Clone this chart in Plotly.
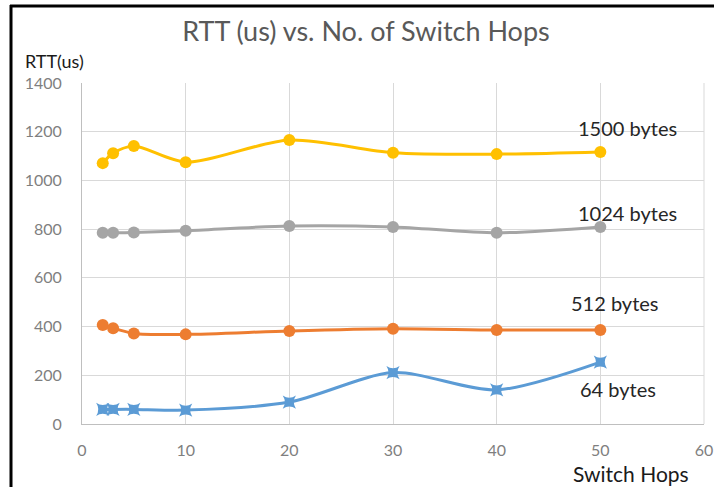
import plotly.graph_objects as go

# Switch hops and measured round-trip times (us) per packet size
hops = [2, 3, 5, 10, 20, 30, 40, 50]
rtt_1500 = [1071, 1112, 1141, 1075, 1166, 1114, 1108, 1117]
rtt_1024 = [785, 785, 786, 793, 813, 809, 785, 809]
rtt_512 = [406, 393, 372, 368, 382, 391, 386, 386]
rtt_64 = [60, 60, 60, 57, 90, 211, 140, 254]

series_names = ["1500 bytes", "1024 bytes", "512 bytes", "64 bytes"]
x_ticks = [0, 10, 20, 30, 40, 50, 60]
y_ticks = [0, 200, 400, 600, 800, 1000, 1200, 1400]

FONT = "Lato, 'Open Sans', sans-serif"
W, H = 714, 487
ML, MR, MT, MB = 82, 10, 83, 63

styles = [
    (rtt_1500, "#FFC000", "circle", 12),
    (rtt_1024, "#A5A5A5", "circle", 12),
    (rtt_512, "#ED7D31", "circle", 12),
    (rtt_64, "#5B9BD5", "star-square", 12),
]

fig = go.Figure()
for name, (vals, color, sym, size) in zip(series_names, styles):
    fig.add_trace(go.Scatter(
        x=hops, y=vals, name=name, mode="lines+markers",
        line=dict(color=color, width=3, shape="spline", smoothing=0.8),
        marker=dict(color=color, symbol=sym, size=size),
        showlegend=False,
    ))

# Series labels beside the right end of each curve (data coordinates)
label_pos = [(52.6, 1215), (52.6, 866), (51.4, 497), (51.7, 144)]
annots = []
for name, (lx, ly) in zip(series_names, label_pos):
    annots.append(dict(
        x=lx, y=ly, xref="x", yref="y", text=name,
        showarrow=False, xanchor="center", yanchor="middle",
        font=dict(family=FONT, size=20, color="#262626"),
    ))

pw = W - ML - MR
ph = H - MT - MB
def px(xp):
    return (xp - ML) / pw
def py(yp):
    return 1 - (yp - MT) / ph

annots.append(dict(x=px(23), y=py(61), xref="paper", yref="paper", text="RTT(us)",
                   showarrow=False, xanchor="left", yanchor="middle",
                   font=dict(family=FONT, size=18, color="#1a1a1a")))
annots.append(dict(x=px(691), y=py(473), xref="paper", yref="paper", text="Switch Hops",
                   showarrow=False, xanchor="right", yanchor="middle",
                   font=dict(family=FONT, size=21, color="#1a1a1a")))

shapes = [
    dict(type="line", xref="paper", yref="paper", x0=px(10), x1=px(W + 5), y0=py(6), y1=py(6),
         line=dict(color="black", width=3)),
    dict(type="line", xref="paper", yref="paper", x0=px(11), x1=px(11), y0=py(5), y1=py(H + 5),
         line=dict(color="black", width=3)),
    # right border of the plotting area
    dict(type="line", xref="paper", yref="paper", x0=1, x1=1, y0=0, y1=1,
         line=dict(color="#D9D9D9", width=1)),
]

fig.update_layout(
    width=W, height=H,
    margin=dict(l=ML, r=MR, t=MT, b=MB, autoexpand=False),
    paper_bgcolor="white", plot_bgcolor="white",
    title=dict(text="RTT (us) vs. No. of Switch Hops", x=px(366), xanchor="center",
               y=1 - 32 / H, yanchor="middle",
               font=dict(family=FONT, size=27, color="#595959")),
    xaxis=dict(range=[0, 60], tickvals=x_ticks, showgrid=True, gridcolor="#D9D9D9", gridwidth=1,
               zeroline=False, showline=True, linecolor="#BFBFBF", linewidth=1,
               tickfont=dict(family=FONT, size=16, color="#7F7F7F"), ticks="",
               ticklabelstandoff=12, automargin=False),
    yaxis=dict(range=[0, 1400], tickvals=y_ticks, showgrid=True, gridcolor="#D9D9D9", gridwidth=1,
               zeroline=False, showline=True, linecolor="#BFBFBF", linewidth=1,
               tickfont=dict(family=FONT, size=16, color="#7F7F7F"), ticks="",
               ticklabelstandoff=16, automargin=False),
    annotations=annots,
    shapes=shapes,
)
fig.update_layout(title_xref="paper")

fig.write_html("out.html")
